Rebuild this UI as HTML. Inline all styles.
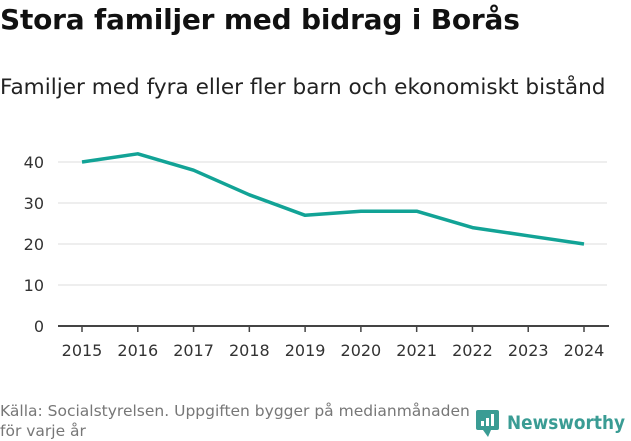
<!DOCTYPE html>
<html><head><meta charset="utf-8"><style>
body{margin:0;width:631px;height:439px;background:#fff;font-family:"DejaVu Sans","Liberation Sans",sans-serif;overflow:hidden;position:relative}
#t{position:absolute;left:0;top:3px;font-size:28px;font-weight:bold;color:#111;letter-spacing:-0.2px}
#s{position:absolute;left:0;top:75px;font-size:21.6px;color:#222}
#src{position:absolute;left:0;top:401px;font-size:15.5px;color:#777;line-height:20px;width:490px}
</style></head><body>
<div id="t">Stora familjer med bidrag i Borås</div>
<div id="s">Familjer med fyra eller fler barn och ekonomiskt bistånd</div>
<div id="src">Källa: Socialstyrelsen. Uppgiften bygger på medianmånaden<br>för varje år</div>
<svg width="631" height="439" style="position:absolute;left:0;top:0" id="c">
<g>
<rect x="476" y="410" width="23" height="20" rx="2" fill="#3a9c94"/>
<polygon points="483,430 488,437 491,430" fill="#3a9c94"/>
<rect x="481" y="421" width="3" height="5" fill="#fff"/><rect x="486" y="418" width="3" height="8" fill="#fff"/><rect x="491" y="414" width="3" height="12" fill="#fff"/>
<text x="507" y="429" font-size="19" font-weight="bold" fill="#3a9c94" textLength="118" lengthAdjust="spacingAndGlyphs" font-family="DejaVu Sans, sans-serif">Newsworthy</text>
</g>
</svg>
<script>
const years=["2015","2016","2017","2018","2019","2020","2021","2022","2023","2024"];
const values=[40,42,38,32,27,28,28,24,22,20];
const yTicks=[0,10,20,30,40];
const svg=document.getElementById('c');const NS='http://www.w3.org/2000/svg';
const x=i=>82+i*(584-82)/(years.length-1);
const y=v=>326-v*4.1;
function mk(t,a){const e=document.createElementNS(NS,t);for(const k in a)e.setAttribute(k,a[k]);svg.appendChild(e);return e;}
yTicks.forEach(v=>{
 if(v>0){const g=mk('line',{x1:58,x2:607,y1:y(v),y2:y(v),stroke:'#ddd','stroke-width':1});
 
 }
 const t=mk('text',{x:44,y:y(v)+6,'text-anchor':'end','font-size':16,fill:'#333'});t.textContent=v;
 
 
});
const ax=mk('line',{x1:58,x2:609,y1:326,y2:326,stroke:'#444','stroke-width':2});


years.forEach((yr,i)=>{
 const tk=mk('line',{x1:x(i),x2:x(i),y1:326,y2:332,stroke:'#444','stroke-width':1.5});
 
 
 const t=mk('text',{x:x(i),y:356,'text-anchor':'middle','font-size':16,fill:'#333'});t.textContent=yr;
 
 
});
const p=mk('polyline',{points:values.map((v,i)=>x(i)+','+y(v)).join(' '),fill:'none',stroke:'#12a396','stroke-width':3.5,'stroke-linejoin':'round'});


</script>
</body></html>
